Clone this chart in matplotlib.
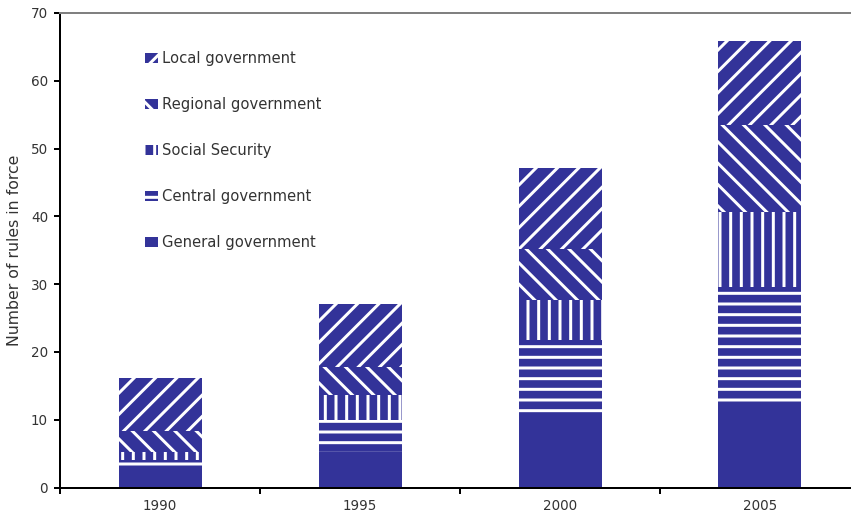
import matplotlib
matplotlib.use("Agg")
import matplotlib.pyplot as plt
import numpy as np

# Number of fiscal rules in force, by level of government
years = ["1990", "1995", "2000", "2005"]
general = [2.6, 5.3, 10.3, 11.9]
central = [1.5, 4.6, 11.5, 17.7]
social = [1.1, 3.8, 5.9, 11.1]
regional = [3.1, 4.1, 7.5, 12.8]
local = [7.9, 9.3, 11.9, 12.3]

labels = ["General government", "Central government", "Social Security",
          "Regional government", "Local government"]
hatches = ["", "-", "|", "\\", "/"]

DPI = 64
W, H = 851, 516


def px(v):
    # pixel size -> points at this dpi
    return v * 72 / DPI


plt.rcParams["hatch.linewidth"] = px(3)
plt.rcParams["font.family"] = ["DejaVu Sans"]

fig = plt.figure(figsize=(W / DPI, H / DPI), dpi=DPI)
ax = fig.add_axes([60 / W, (H - 487.5) / H, 800 / W, 474.5 / H])

x = np.arange(len(years))
bottom = np.zeros(len(years))
bars = []
for name, vals, h in zip(labels, [general, central, social, regional, local], hatches):
    b = ax.bar(x, vals, 0.415, bottom=bottom, color="#333399", edgecolor="white",
               linewidth=0, hatch=h, label=name)
    bars.append(b)
    bottom += np.array(vals)

ax.set_xlim(-0.5, 3.5)
ax.set_ylim(0, 70)
ax.set_yticks(np.arange(0, 71, 10))
ax.set_xticks(np.arange(-0.5, 4, 1))
ax.set_xticklabels([])
ax.set_xticks(x, minor=True)
ax.set_xticklabels(years, minor=True)
ax.tick_params(axis="x", which="major", length=px(6), width=px(2), direction="out")
ax.tick_params(axis="x", which="minor", length=0, pad=px(12), labelsize=px(13.5),
               labelcolor="#333333")
ax.tick_params(axis="y", length=px(6), width=px(2), direction="out", pad=px(6),
               labelsize=px(13.5), labelcolor="#333333")

for side in ["left", "bottom"]:
    ax.spines[side].set_linewidth(px(2))
    ax.spines[side].set_color("black")
ax.spines["top"].set_linewidth(px(2))
ax.spines["top"].set_color("#808080")
ax.spines["right"].set_visible(False)

ax.set_ylabel("Number of rules in force", fontsize=px(15.8), color="#333333")
ax.yaxis.set_label_coords(-0.0475, 0.5)

ax.legend(bars[::-1], labels[::-1], loc="upper left", bbox_to_anchor=(0.106, 0.92),
          frameon=False, fontsize=px(14.8), labelspacing=2.1, handlelength=0.88,
          handleheight=0.7, handletextpad=0.25, borderpad=0, borderaxespad=0,
          labelcolor="#333333")

fig.savefig("out.png", dpi=DPI)
